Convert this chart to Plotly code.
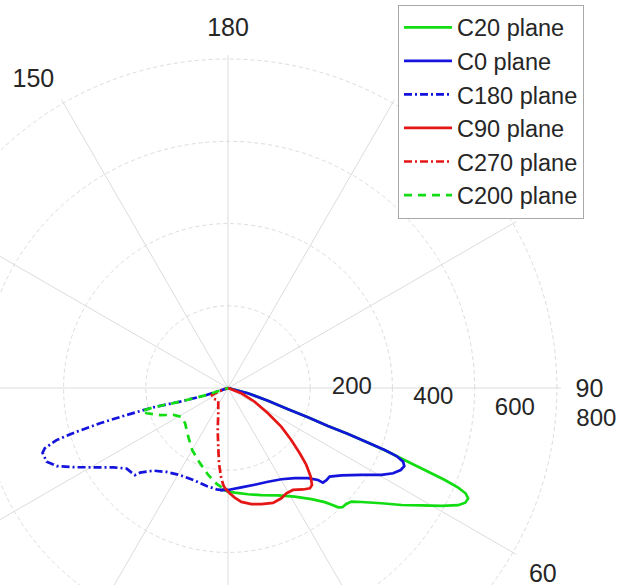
import plotly.graph_objects as go

# ---- data: luminous intensity (cd) versus vertical angle gamma (deg) ----
c20_gamma = [-3.4, 0.0, 3.7, 10.7, 17.3, 25.0, 31.5, 36.9, 40.3, 41.9, 42.7, 43.8, 45.6, 47.4, 49.5,
             53.1, 56.0, 58.7, 61.1, 63.0, 64.2, 65.3, 66.1, 66.6, 67.0, 67.3, 67.7, 68.3, 68.7, 69.0,
             69.2, 69.9, 70.5, 72.4, 75.2, 90]
c20_cd = [246, 252, 255, 263, 273, 288, 310, 338, 364, 383, 395, 402, 403, 408, 427,
          467, 509, 550, 593, 628, 641, 643, 632, 610, 573, 528, 473, 419, 366, 313,
          260, 207, 155, 102, 50, 0]

c0_gamma = [-4.5, 0.0, 7.6, 15.4, 23.1, 30.3, 36.5, 41.6, 44.4, 45.1, 46.9, 48.9, 52.4, 56.9, 60.5,
            62.7, 64.6, 66.1, 67.2, 68.0, 68.4, 68.7, 69.0, 69.2, 69.9, 70.5, 72.4, 75.2, 90]
c0_cd = [249, 248, 244, 244, 248, 257, 273, 293, 313, 326, 328, 328, 348, 387, 429,
         452, 465, 469, 462, 442, 410, 366, 313, 260, 207, 155, 102, 50, 0]

c180_gamma = [2.6, 6.4, 12.3, 20.7, 28.9, 36.2, 42.1, 46.1, 46.9, 48.7, 51.5, 55.3, 59.5, 62.9, 65.5,
              67.9, 70.7, 71.8, 73.1, 73.9, 74.6, 75.1, 75.5, 74.1, 71.8, 90]
c180_cd = [249, 248, 244, 239, 242, 253, 271, 297, 310, 312, 315, 339, 380, 423, 458,
           476, 478, 469, 436, 383, 323, 255, 188, 121, 55, 0]

c90_gamma = [-1.7, 0.9, 3.5, 6.7, 11.4, 16.0, 21.4, 25.8, 29.0, 32.5, 36.5, 39.2, 40.9, 43.0, 45.5,
             47.7, 50.6, 54.0, 57.7, 62.8, 68.3, 90]
c90_cd = [244, 256, 267, 279, 288, 294, 300, 298, 293, 294, 307, 315, 312, 295, 267,
          236, 199, 160, 115, 73, 35, 0]

c270_gamma = [1.7, 2.8, 4.5, 6.8, 9.4, 13.8, 21.0, 37.4, 55.0, 66.8, 69.1, 90]
c270_cd = [244, 236, 217, 185, 145, 105, 66, 39, 44, 43, 25, 0]

c200_gamma = [3.6, 6.7, 12.8, 21.4, 30.1, 39.2, 50.6, 58.2, 63.7, 68.3, 72.7, 75.1, 75.5, 74.1, 71.8, 90]
c200_cd = [242, 235, 217, 193, 174, 153, 135, 133, 148, 178, 207, 217, 188, 121, 55, 0]

angle_ticks = [0, 30, 60, 90, 120, 150, 180, 210, 240, 270, 300, 330]
angle_labels = ["0", "30", "60", "90", "120", "150", "180", "150", "120", "90", "60", "30"]
radial_ticks = [200, 400, 600, 800]
radial_labels = ["200", "400", "600", "800"]

GREEN, BLUE, RED = "#12dc12", "#1414dc", "#e41616"
FONT = "Arial, Liberation Sans, Helvetica, sans-serif"
TXT = "#262626"
GRID = "#dcdcdc"
PAD = "\u00a0" * 3

series = [
    ("C20 plane", c20_gamma, c20_cd, 1, GREEN, "solid"),
    ("C0 plane", c0_gamma, c0_cd, 1, BLUE, "solid"),
    ("C180 plane", c180_gamma, c180_cd, -1, BLUE, "8px,3px,2px,3px"),
    ("C90 plane", c90_gamma, c90_cd, 1, RED, "solid"),
    ("C270 plane", c270_gamma, c270_cd, -1, RED, "8px,3px,2px,3px"),
    ("C200 plane", c200_gamma, c200_cd, -1, GREEN, "8px,6px"),
]

fig = go.Figure()
for name, g, cd, side, col, dash in series:
    fig.add_trace(go.Scatterpolar(
        r=cd, theta=[side * v for v in g], mode="lines", name=name,
        line=dict(color=col, width=2.7, dash=dash)))

P = 666            # plot-area side (px)
SHIFT = 105        # left part of the circle lies outside the visible window
W, H = 621 + SHIFT, 55 + P
fig.update_layout(
    width=W, height=H,
    margin=dict(l=0, r=W - P, t=55, b=0, pad=0, autoexpand=False),
    paper_bgcolor="white",
    font=dict(family=FONT, size=24, color=TXT),
    showlegend=True,
    legend=dict(x=(398 + SHIFT) / P, y=(H - 4.5) / P, xanchor="left", yanchor="top",
                bgcolor="white", bordercolor="#a9a9a9", borderwidth=1, itemwidth=48,
                font=dict(family=FONT, size=23.5, color=TXT), tracegroupgap=0),
    polar=dict(
        domain=dict(x=[0, 1], y=[0, 1]),
        bgcolor="white",
        angularaxis=dict(rotation=-90, direction="counterclockwise",
                         tickmode="array", tickvals=angle_ticks, ticktext=angle_labels,
                         showline=False, showgrid=True, gridcolor=GRID, gridwidth=1,
                         ticks="outside", ticklen=9, tickcolor="rgba(0,0,0,0)",
                         tickfont=dict(family=FONT, size=25, color=TXT), layer="below traces"),
        radialaxis=dict(range=[0, 810], tickmode="array", tickvals=radial_ticks,
                        ticktext=[PAD + t for t in radial_labels], showline=False, angle=-7.5,
                        tickangle=-7.5, side="counterclockwise", showgrid=True, gridcolor=GRID,
                        griddash="4px,3px", gridwidth=1, ticks="",
                        tickfont=dict(family=FONT, size=24, color=TXT), layer="below traces"),
    ),
)

post = ("var gd=document.getElementById('{plot_id}');"
        "gd.style.position='absolute';gd.style.left='-" + str(SHIFT) + "px';gd.style.top='0px';"
        "document.body.style.margin='0';document.body.style.overflow='hidden';"
        "document.documentElement.style.overflow='hidden';")
fig.write_html("out.html", post_script=post, config={"displayModeBar": False})
